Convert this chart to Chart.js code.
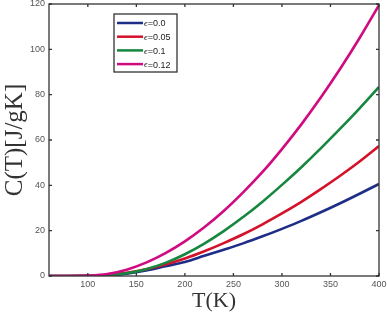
<!DOCTYPE html>
<html>
<head>
<meta charset="utf-8">
<script src="https://cdn.jsdelivr.net/npm/chart.js@4"></script>
<style>
  html, body { margin: 0; padding: 0; background: #fff; }
  canvas { display: block; }
</style>
</head>
<body>
<canvas id="chart" width="387" height="314"></canvas>
<script>
const temps = [60, 80, 100, 120, 140, 160, 180, 200, 220, 240, 260, 280, 300, 320, 340, 360, 380, 400];
const eps00 = [0, 0, 0, 0.2, 1.0, 2.4, 4.3, 6.2, 8.9, 11.6, 14.4, 17.5, 20.8, 24.3, 28.1, 32.1, 36.3, 40.6];
const eps005 = [0, 0, 0.05, 0.4, 1.4, 3.0, 5.1, 7.7, 10.9, 14.5, 18.4, 22.8, 27.6, 32.7, 38.3, 44.2, 50.5, 57.3];
const eps01 = [0, 0, 0.05, 0.35, 1.2, 3.0, 5.8, 9.6, 14.3, 19.8, 26, 32.8, 40.2, 48, 56.3, 65, 74, 83.4];
const eps012 = [0, 0, 0.2, 0.9, 2.8, 5.9, 10.1, 15.3, 21.5, 28.7, 36.9, 45.9, 56, 66.9, 78.7, 91.4, 105, 119.5];
const labels = ['0.0', '0.05', '0.1', '0.12'];
const colors = ['#1e2d87', '#d4122a', '#16873e', '#d00a80'];
const xTicks = [100, 150, 200, 250, 300, 350, 400];
const yTicks = [0, 20, 40, 60, 80, 100, 120];

const series = [eps00, eps005, eps01, eps012];

// box, inward ticks and tick labels, matlab style
const frame = {
  id: 'frame',
  afterDraw(chart) {
    const {ctx, chartArea: a, scales} = chart;
    ctx.save();
    ctx.strokeStyle = '#333';
    ctx.lineWidth = 1.3;
    ctx.strokeRect(a.left, a.top, a.right - a.left, a.bottom - a.top);
    ctx.beginPath();
    ctx.fillStyle = '#555';
    ctx.font = '9px "Liberation Sans"';
    xTicks.forEach(v => {
      const x = scales.x.getPixelForValue(v);
      ctx.moveTo(x, a.bottom); ctx.lineTo(x, a.bottom - 3);
      ctx.moveTo(x, a.top); ctx.lineTo(x, a.top + 3);
      ctx.textAlign = 'center';
      ctx.textBaseline = 'middle';
      ctx.fillText(String(v), x, a.bottom + 9);
    });
    yTicks.forEach(v => {
      const y = scales.y.getPixelForValue(v);
      ctx.moveTo(a.left, y); ctx.lineTo(a.left + 3, y);
      ctx.moveTo(a.right, y); ctx.lineTo(a.right - 3, y);
      ctx.textAlign = 'right';
      ctx.textBaseline = 'middle';
      ctx.fillText(String(v), a.left - 4, y);
    });
    ctx.stroke();

    // legend box
    const lx = 114, ly = 14, lw = 63, lh = 58;
    ctx.fillStyle = '#fff';
    ctx.fillRect(lx, ly, lw, lh);
    ctx.lineWidth = 1.3;
    ctx.strokeStyle = '#333';
    ctx.strokeRect(lx, ly, lw, lh);
    ctx.textAlign = 'left';
    labels.forEach((lab, i) => {
      const y = 23 + i * 13.7;
      ctx.strokeStyle = colors[i];
      ctx.lineWidth = 2.5;
      ctx.beginPath();
      ctx.moveTo(117, y); ctx.lineTo(143, y);
      ctx.stroke();
      ctx.fillStyle = '#222';
      ctx.textBaseline = 'middle';
      ctx.font = 'italic 9px "Liberation Serif"';
      ctx.fillText('\u03F5', 144, y + 1);
      const w = ctx.measureText('\u03F5').width;
      ctx.font = '9px "Liberation Sans"';
      ctx.fillText('=' + lab, 144 + w, y + 1);
    });
    ctx.restore();
  }
};

new Chart(document.getElementById('chart'), {
  type: 'line',
  data: {
    labels: temps,
    datasets: series.map((s, i) => ({
      label: 'ϵ=' + labels[i],
      data: temps.map((t, j) => ({x: t, y: s[j]})),
      borderColor: colors[i],
      borderWidth: 2.6,
      pointRadius: 0,
      fill: false,
      cubicInterpolationMode: 'monotone',
      order: 3 - i
    }))
  },
  options: {
    responsive: false,
    animation: false,
    devicePixelRatio: 1,
    layout: { padding: { top: 4, right: 8, left: 0, bottom: 0 } },
    plugins: { legend: { display: false }, tooltip: { enabled: false } },
    scales: {
      x: {
        type: 'linear',
        min: 60,
        max: 400,
        grid: { display: false },
        border: { display: false },
        ticks: { display: false },
        afterFit: s => { s.height = 38; s.paddingLeft = 0; s.paddingRight = 0; },
        title: { display: true, text: 'T(K)', color: '#333', padding: 0, font: { family: 'Liberation Serif', size: 22 } }
      },
      y: {
        min: 0,
        max: 120,
        grid: { display: false },
        border: { display: false },
        ticks: { display: false },
        afterFit: s => { s.width = 49; s.paddingTop = 0; s.paddingBottom = 0; },
        title: { display: true, text: 'C(T)[J/gK]', color: '#333', padding: 0, font: { family: 'Liberation Serif', size: 25 } }
      }
    }
  },
  plugins: [frame]
});
</script>
</body>
</html>
